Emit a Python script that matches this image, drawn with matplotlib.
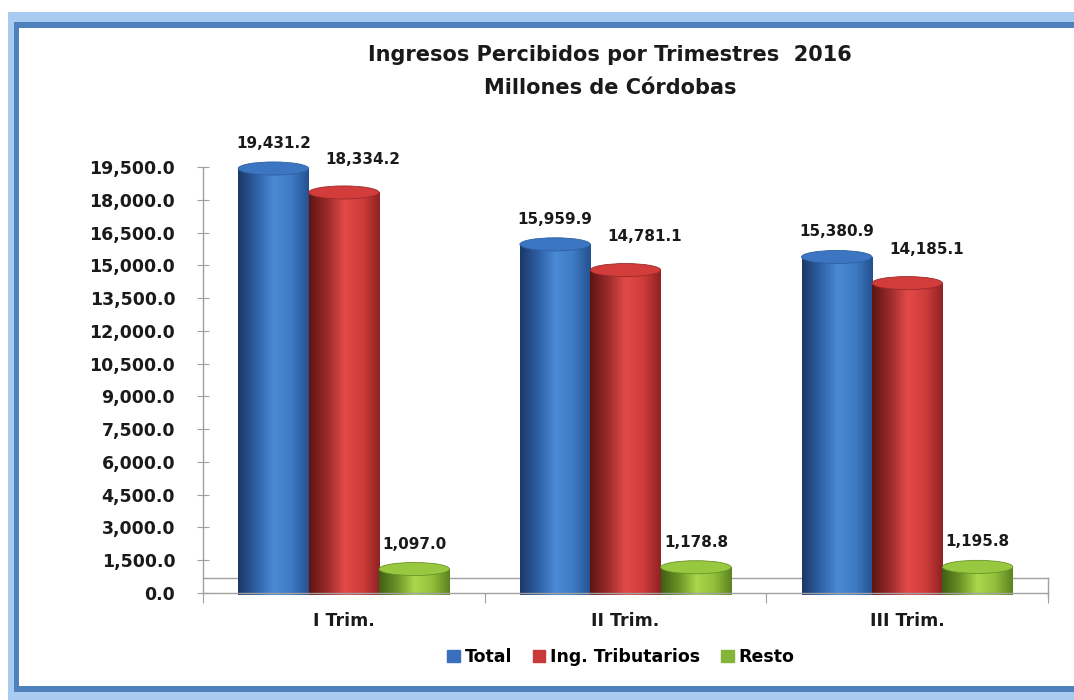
"""
Ingresos Percibidos por Trimestres 2016 — 3D-style cylinder bars
"""

import numpy as np
import matplotlib
matplotlib.use("Agg")
import matplotlib.pyplot as plt
from matplotlib.patches import Ellipse, Rectangle
from matplotlib.colors import LinearSegmentedColormap
from matplotlib.ticker import FuncFormatter


# Data

trimestres = ["I Trim.", "II Trim.", "III Trim."]
series = ["Total", "Ing. Tributarios", "Resto"]
total = [19431.2, 15959.9, 15380.9]
tributarios = [18334.2, 14781.1, 14185.1]
resto = [1097.0, 1178.8, 1195.8]
y_ticks = np.arange(0, 19501, 1500)


# Styles

FONT = "DejaVu Sans"
plt.rcParams["font.family"] = [FONT]

shades = {
    "Total": ["#1b3866", "#2e5fa3", "#4a8ad6", "#3f7bc4", "#24508f"],
    "Ing. Tributarios": ["#5e1414", "#9a2a2a", "#e24a48", "#cf3d3b", "#8e2222"],
    "Resto": ["#3f5e14", "#6a9226", "#a9d84c", "#92c03c", "#5b8220"],
}
top_colors = {"Total": "#3c76c2", "Ing. Tributarios": "#d23c3a", "Resto": "#98c840"}
legend_colors = {"Total": "#3a6fbd", "Ing. Tributarios": "#c9393a", "Resto": "#86b33a"}
TXT = "#1a1a1a"

fig = plt.figure(figsize=(10.74, 7.0), dpi=100)
W, H = 1074, 700

# outer frame (light band + darker line), open on the right side
frame_light = "#a9cbf2"
frame_dark = "#4f81bd"
for (x0, y0, x1, y1, c) in [
    (8, 12, 1074, 22, frame_light), (8, 22, 1074, 28, frame_dark),
    (8, 12, 14, 700, frame_light), (14, 22, 19, 692, frame_dark),
    (8, 692, 1074, 700, frame_light), (14, 686, 1074, 692, frame_dark),
]:
    fig.patches.append(Rectangle((x0 / W, 1 - y1 / H), (x1 - x0) / W, (y1 - y0) / H,
                                 transform=fig.transFigure, color=c, lw=0, zorder=0))

ax = fig.add_axes([203 / W, 1 - 593 / H, (1048 - 203) / W, (593 - 167) / H])
ax.set_facecolor("none")

x = np.arange(len(trimestres))
bw = 0.25
offsets = [-0.25, 0.0, 0.25]
values = {"Total": total, "Ing. Tributarios": tributarios, "Resto": resto}

base = 500          # bottom of cylinders, sits slightly behind the front axis
ell_h = 600         # ellipse height in data units (~13 px)
grad = np.linspace(0, 1, 256).reshape(1, -1)

for s, off in zip(series, offsets):
    cmap = LinearSegmentedColormap.from_list(s, shades[s])
    vals = values[s]
    bars = ax.bar(x + off, np.array(vals) - base, bw, bottom=base,
                  color="none", lw=0, zorder=2)
    for rect, v in zip(bars, vals):
        x0 = rect.get_x()
        x1 = x0 + rect.get_width()
        # body gradient
        im = ax.imshow(grad, cmap=cmap, extent=[x0, x1, base, v], aspect="auto",
                       zorder=2, interpolation="bilinear")
        im.set_clip_path(rect)
        # rounded bottom
        bot = Ellipse(((x0 + x1) / 2, base), x1 - x0, ell_h, color="none", lw=0)
        ax.add_patch(bot)
        imb = ax.imshow(grad, cmap=cmap, extent=[x0, x1, base - ell_h, base + 1],
                        aspect="auto", zorder=1.9, interpolation="bilinear")
        imb.set_clip_path(bot)
        imb.set_clip_on(False)
        # top cap
        ax.add_patch(Ellipse(((x0 + x1) / 2, v), x1 - x0, ell_h,
                             facecolor=top_colors[s], edgecolor=shades[s][1],
                             lw=0.6, zorder=3, clip_on=False))

    # data labels
    dx = 14 if s == "Ing. Tributarios" else 0
    dy = 24 if s == "Ing. Tributarios" else 18
    for xi, v in zip(x + off, vals):
        ax.annotate(f"{v:,.1f}", (xi, v), xytext=(dx, dy), textcoords="offset points",
                    ha="center", va="center", fontsize=11, fontweight="bold",
                    color=TXT, annotation_clip=False)

ax.set_xlim(-0.5, 2.5)
ax.set_ylim(0, 19500)

# y axis
ax.set_yticks(y_ticks)
ax.yaxis.set_major_formatter(FuncFormatter(lambda v, p: f"{v:,.1f}"))
ax.tick_params(axis="y", direction="inout", length=8, width=0.8, color="#a0a0a0",
               labelsize=12.5, pad=16)
for lab in ax.get_yticklabels():
    lab.set_fontweight("bold")
    lab.set_color(TXT)

# x axis: ticks between categories, labels centred
ax.set_xticks([-0.5, 0.5, 1.5, 2.5])
ax.set_xticklabels([])
ax.set_xticks(x, minor=True)
ax.set_xticklabels(trimestres, minor=True, fontsize=12.5, fontweight="bold", color=TXT)
ax.tick_params(axis="x", which="major", direction="out", length=7, width=0.8, color="#a0a0a0")
ax.tick_params(axis="x", which="minor", length=0, pad=14)

for side in ["top", "right"]:
    ax.spines[side].set_visible(False)
for side in ["left", "bottom"]:
    ax.spines[side].set_color("#a0a0a0")
    ax.spines[side].set_linewidth(1.0)

# floor (back edge) and right edge of the 3D floor
floor = 680
ax.plot([-0.5, 2.5], [floor, floor], color="#a0a0a0", lw=1.0, zorder=1, clip_on=False)
ax.plot([2.5, 2.5], [-180, floor], color="#a0a0a0", lw=1.0, zorder=1, clip_on=False)

# title
fig.text(610 / W, 1 - 55 / H, "Ingresos Percibidos por Trimestres  2016",
         ha="center", va="center", fontsize=15, fontweight="bold", color=TXT)
fig.text(610 / W, 1 - 88 / H, "Millones de Córdobas",
         ha="center", va="center", fontsize=15, fontweight="bold", color=TXT)

# legend
handles = [Rectangle((0, 0), 1, 1, color=legend_colors[s]) for s in series]
fig.legend(handles, series, loc="center", bbox_to_anchor=(621 / W, 1 - 657 / H),
           ncol=3, frameon=False, handlelength=0.7, handleheight=0.7,
           handletextpad=0.3, columnspacing=1.2,
           prop={"family": FONT, "weight": "bold", "size": 12.5})

fig.savefig("out.png", dpi=100)
